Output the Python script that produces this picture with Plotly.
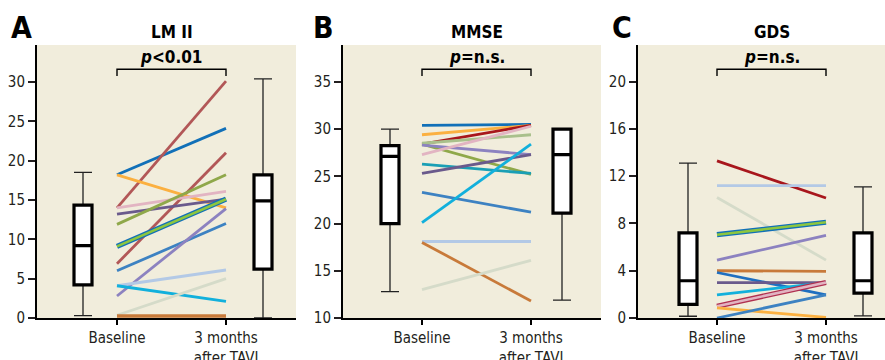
import plotly.graph_objects as go

# ---------------- data ----------------
categories = ["Baseline", "3 months<br>after TAVI"]
panel_letters = ["A", "B", "C"]
panel_titles = ["LM II", "MMSE", "GDS"]
p_labels = ["<i>p</i>&lt;0.01", "<i>p</i>=n.s.", "<i>p</i>=n.s."]

# Panel A: LM II, per patient
lm_baseline = [18.2, 14.0, 6.9, 18.2, 14.0, 13.2, 11.9, 9.1, 9.1, 6.0, 2.8, 4.1, 4.1, 0.35, 0.25]
lm_followup = [24.1, 30.1, 21.0, 14.0, 16.1, 15.1, 18.2, 15.1, 15.1, 12.0, 13.9, 6.1, 2.1, 5.0, 0.25]
# Panel B: MMSE, per patient
mmse_baseline = [30.4, 29.4, 28.4, 28.4, 28.5, 28.3, 27.3, 26.3, 25.3, 23.3, 20.1, 18.1, 18.0, 13.0]
mmse_followup = [30.5, 30.4, 30.4, 25.2, 29.4, 27.3, 30.3, 25.3, 27.3, 21.2, 28.4, 18.1, 11.8, 16.1]
# Panel C: GDS, per patient
gds_baseline = [13.3, 11.2, 10.2, 7.05, 7.05, 4.9, 4.0, 3.85, 3.0, 1.95, 1.0, 1.0, 0.85, 0.0]
gds_followup = [10.15, 11.2, 4.9, 8.1, 8.1, 7.0, 3.95, 1.95, 3.0, 3.0, 3.0, 3.0, 0.05, 1.95]

# Box statistics: [lower whisker, Q1, median, Q3, upper whisker]
lm_box_base = [0.3, 4.2, 9.2, 14.35, 18.5]
lm_box_follow = [0.0, 6.2, 14.9, 18.2, 30.4]
mmse_box_base = [12.8, 20.0, 27.1, 28.25, 30.0]
mmse_box_follow = [11.9, 21.1, 27.3, 30.0, 30.0]
gds_box_base = [0.15, 1.15, 3.15, 7.2, 13.1]
gds_box_follow = [0.18, 2.1, 3.15, 7.2, 11.1]

lm_ticks = [0, 5, 10, 15, 20, 25, 30]
mmse_ticks = [10, 15, 20, 25, 30, 35]
gds_ticks = [0, 4, 8, 12, 16, 20]

# ---------------- styles ----------------
DBLUE = "#1170b8"
MBLUE = "#3d82c2"
RED = "#b25757"
DRED = "#a8161c"
ORANGE = "#fbb040"
PINK = "#e2b4c2"
DPURP = "#6a5a8c"
OLIVE = "#8fa84a"
LOLIVE = "#a9c08c"
LIME = "#8dc63f"
LAV = "#8c82c0"
LBLUE = "#b3c9e6"
CYAN = "#12b0dc"
GREY = "#d5dbc9"
OBROWN = "#c87a3a"
TEAL = "#1a9fb5"

LW = 2.8
lm_colors = [DBLUE, RED, RED, ORANGE, PINK, DPURP, OLIVE, DBLUE, LIME, MBLUE, LAV, LBLUE, CYAN, GREY, OBROWN]
lm_widths = [LW, LW, LW, LW, LW, LW, LW, 5.2, 2.6, LW, LW, LW, LW, LW, 3.6]
mmse_colors = [DBLUE, ORANGE, DRED, OLIVE, LOLIVE, LAV, PINK, TEAL, DPURP, MBLUE, CYAN, LBLUE, OBROWN, GREY]
mmse_widths = [LW] * 14
gds_colors = [DRED, LBLUE, GREY, DBLUE, LIME, LAV, OBROWN, "#1f6fc0", DPURP, CYAN, "#b03050", PINK, ORANGE, MBLUE]
gds_widths = [LW, LW, LW, 5.2, 2.6, LW, LW, LW, LW, LW, 5.2, 2.6, LW, LW]

FONT = "DejaVu Sans Condensed, Liberation Sans Narrow, Arial Narrow, sans-serif"

W, H = 885, 360


def px_x(rx):
    return rx / W


def px_y(ry):
    return 1 - ry / H


ydom = [px_y(318), px_y(45)]

panels = [
    dict(base=lm_baseline, fol=lm_followup, colors=lm_colors, widths=lm_widths,
         bb=lm_box_base, bf=lm_box_follow, ticks=lm_ticks, yr=[0, 34.7],
         px=(37, 296), cat_px=(117, 226), box_px=(83, 263), letter_px=21),
    dict(base=mmse_baseline, fol=mmse_followup, colors=mmse_colors, widths=mmse_widths,
         bb=mmse_box_base, bf=mmse_box_follow, ticks=mmse_ticks, yr=[10, 38.9],
         px=(343, 601), cat_px=(422, 531), box_px=(390, 562), letter_px=323),
    dict(base=gds_baseline, fol=gds_followup, colors=gds_colors, widths=gds_widths,
         bb=gds_box_base, bf=gds_box_follow, ticks=gds_ticks, yr=[0, 23.1],
         px=(638, 885), cat_px=(717, 826), box_px=(688, 863), letter_px=622),
]

fig = go.Figure()
layout = dict(width=W, height=H, margin=dict(l=0, r=0, t=0, b=0, autoexpand=False),
              paper_bgcolor="white", plot_bgcolor="#f1eddc", showlegend=False,
              font=dict(family=FONT, color="#231f20"), boxmode="overlay")
annotations = []
shapes = []

for i, p in enumerate(panels):
    k = "" if i == 0 else str(i + 1)
    xa, ya = "x" + k, "y" + k
    c0, c1 = p["cat_px"]
    scale = (c1 - c0)  # px per x unit
    xr = [1 - (c0 - p["px"][0]) / scale, 2 + (p["px"][1] - c1) / scale]
    boxx = [1 - (c0 - p["box_px"][0]) / scale, 2 + (p["box_px"][1] - c1) / scale]
    bw = 18 / scale

    # patient lines
    for b, f, col, lw in zip(p["base"], p["fol"], p["colors"], p["widths"]):
        fig.add_trace(go.Scatter(x=[1, 2], y=[b, f], mode="lines",
                                 line=dict(color=col, width=lw),
                                 xaxis=xa, yaxis=ya, hoverinfo="skip"))
    # boxes: thin whiskers + thick box
    for pos, st in zip(boxx, [p["bb"], p["bf"]]):
        fig.add_trace(go.Box(x=[pos], lowerfence=[st[0]], q1=[st[1]], median=[st[2]],
                             q3=[st[3]], upperfence=[st[4]], width=bw, whiskerwidth=1,
                             fillcolor="white", line=dict(color="#222222", width=1.3),
                             orientation="v", xaxis=xa, yaxis=ya, hoverinfo="skip"))
        fig.add_trace(go.Box(x=[pos], lowerfence=[st[1]], q1=[st[1]], median=[st[2]],
                             q3=[st[3]], upperfence=[st[3]], width=bw, whiskerwidth=0,
                             fillcolor="white", line=dict(color="black", width=3.2),
                             orientation="v", xaxis=xa, yaxis=ya, hoverinfo="skip"))

    dom = [px_x(p["px"][0]), min(px_x(p["px"][1]), 1.0)]
    layout["xaxis" + k] = dict(domain=dom, range=xr, anchor=ya, tickmode="array",
                               tickvals=[1, 2], ticktext=categories, ticks="outside",
                               ticklen=5, tickwidth=1.5, tickcolor="black",
                               showline=True, linecolor="black", linewidth=2,
                               showgrid=False, zeroline=False, automargin=False,
                               tickfont=dict(size=15, family=FONT, color="#231f20"))
    layout["yaxis" + k] = dict(domain=ydom, range=p["yr"], anchor=xa, tickmode="array",
                               tickvals=p["ticks"], ticks="outside", ticklen=7,
                               tickwidth=1.5, tickcolor="#231f20", showline=True,
                               linecolor="black", linewidth=2, showgrid=False,
                               zeroline=False, automargin=False,
                               tickfont=dict(size=15, family=FONT, color="#231f20"))

    # bracket
    yb_top = px_y(69.3)
    yb_bot = px_y(76)
    shapes.append(dict(type="path", xref=xa, yref="paper",
                       path=f"M 1,{yb_bot} L 1,{yb_top} L 2,{yb_top} L 2,{yb_bot}",
                       line=dict(color="black", width=1.4)))
    annotations.append(dict(x=1.5, xref=xa, y=px_y(56.5), yref="paper",
                            text="<b>" + p_labels[i] + "</b>", showarrow=False,
                            font=dict(size=17, family=FONT, color="black"),
                            xanchor="center", yanchor="middle"))
    annotations.append(dict(x=1.5, xref=xa, y=px_y(32), yref="paper",
                            text="<b>" + panel_titles[i] + "</b>", showarrow=False,
                            font=dict(size=17, family=FONT, color="black"),
                            xanchor="center", yanchor="middle"))
    annotations.append(dict(x=px_x(p["letter_px"]), xref="paper", y=px_y(28), yref="paper",
                            text="<b>" + panel_letters[i] + "</b>", showarrow=False,
                            font=dict(size=30, family=FONT, color="black"),
                            xanchor="center", yanchor="middle"))

layout["annotations"] = annotations
layout["shapes"] = shapes
fig.update_layout(**layout)
fig.write_html(
    "out.html",
    config={"displayModeBar": False},
    post_script="document.body.style.margin='0';document.body.style.overflow='hidden';",
)
